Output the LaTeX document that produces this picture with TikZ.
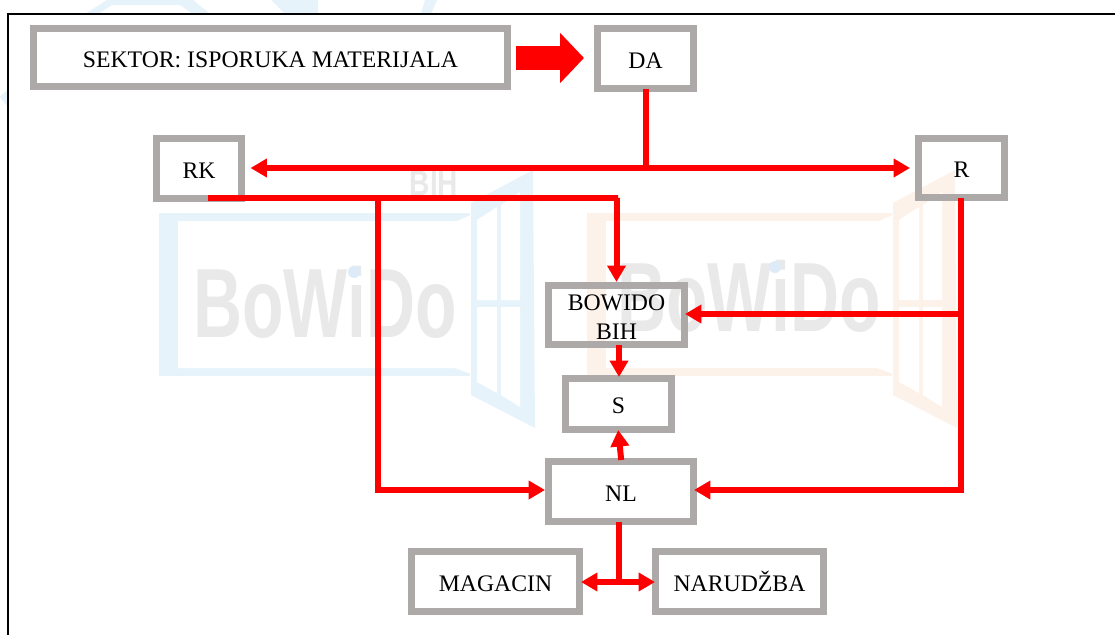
\documentclass[tikz,border=0pt]{standalone}
\usepackage{fontspec}
\setmainfont{Liberation Serif}
\newfontfamily\logofont{Liberation Sans}
\usepackage{xcolor}
\usetikzlibrary{arrows.meta, positioning}
\definecolor{framegray}{HTML}{ADA9A9}
\definecolor{logoblue}{HTML}{E6F3FB}
\definecolor{logoorange}{HTML}{FDF2EA}
\definecolor{logogray}{HTML}{E9E9E9}
\definecolor{logodot}{HTML}{DCEBF7}

\begin{document}
\begin{tikzpicture}[
          x=0.02cm, y=-0.02cm,
          box/.style={draw=framegray, line width=0.14cm, inner sep=0pt, align=center,
                      font=\fontsize{13.5}{16.4}\selectfont, text=black,
                      text height=11pt, text depth=0pt,
                      minimum width=1.72cm, minimum height=1.2cm},
          arr/.style={-{Triangle[length=0.33cm, width=0.36cm]}, draw=red, line width=0.12cm},
          wire/.style={draw=red, line width=0.12cm},
          bigarr/.style={-{Triangle[length=0.48cm, width=0.98cm]}, draw=red, line width=0.48cm},
          logotext/.style={font=\logofont\bfseries\fontsize{56}{56}\selectfont, text=logogray,
                           xscale=0.69, transform shape}
        ]
          \useasboundingbox (0,0) rectangle (1115,635);
          \fill[white] (0,0) rectangle (1115,635);

          % watermark
          \fill[logoblue] (85,14) -- (107,0) -- (193,0) -- (210,14) -- (193,14) -- (180,5) -- (112,5) -- (98,14) -- cycle;
          \fill[logoblue] (271,0) -- (318,0) -- (318,14) -- (285,14) -- cycle;
          \fill[logoblue] (421,14) -- (425,0) -- (437,0) -- (431,14) -- cycle;
          \fill[logoblue] (0,97) -- (7,90) -- (7,106) -- cycle;
          \foreach \dx/\fl/\col in {0/159/logoblue, 422/587/logoorange} {
            \fill[\col] (\fl,213) rectangle (470+\dx,376);
            \fill[white] (\fl+19,221) -- (457+\dx,221) -- (471+\dx,215) -- (471+\dx,374) -- (455+\dx,368) -- (\fl+19,368) -- cycle;
            \fill[\col] (471+\dx,203) -- (533+\dx,170) -- (535+\dx,428) -- (471+\dx,395) -- cycle;
            \fill[white] (477+\dx,220) -- (497+\dx,207) -- (497+\dx,300) -- (477+\dx,300) -- cycle;
            \fill[white] (501+\dx,205) -- (520+\dx,192) -- (520+\dx,300) -- (501+\dx,300) -- cycle;
            \fill[white] (477+\dx,307) -- (497+\dx,307) -- (497+\dx,393) -- (477+\dx,382) -- cycle;
            \fill[white] (501+\dx,307) -- (520+\dx,307) -- (520+\dx,407) -- (501+\dx,395) -- cycle;
          }
          \node[logotext] (logoleft) at (325,302) {BoWiDo};
          \node[logotext] (logoright) at (749,296) {BoWiDo};
          \fill[logodot] (354,272) circle (6);
          \fill[logodot] (775,267) circle (6);
          \node[font=\logofont\bfseries\fontsize{20}{20}\selectfont, text=logogray, xscale=0.8, transform shape] (logobih) at (434,183) {BIH};

          % page border
          \coordinate (corner) at (8,14);
          \draw[black, line width=0.04cm] (1115,14) -- (corner) -- (8,635);

          \node[box, minimum width=9.48cm, minimum height=1.16cm] (sektor) at (270.5,57.5) {SEKTOR: ISPORUKA MATERIJALA};
          \node[box, minimum width=1.92cm] (da) at (645.5,58.5) {DA};
          \node[box] (rk) at (199,168.5) {RK};
          \node[box] (r)  at (961.5,168) {R};
          \node[box, text height=, text depth=, minimum width=2.72cm, minimum height=1.18cm] (bih) at (616.5,315) {\rule{0pt}{11pt}BOWIDO\\BIH};
          \node[box, minimum width=2.12cm, minimum height=1.02cm] (s) at (618.5,404) {S};
          \node[box, minimum width=2.9cm] (nl) at (621,491.5) {NL};
          \node[box, minimum width=3.36cm] (magacin) at (495.5,581.5) {MAGACIN};
          \node[box, minimum width=3.36cm] (narudzba) at (739.5,581.5) {NARUD\v{Z}BA};

          \coordinate (datee) at (645.5,168);
          \coordinate (rkout) at (208,198);
          \coordinate (rktee) at (378,198);
          \coordinate (rkturn) at (618,198);
          \coordinate (nlturn) at (378,490);
          \coordinate (rout) at (961,198);
          \coordinate (rtee) at (961,314);
          \coordinate (rturn) at (961,490);
          \coordinate (nltee) at (619,582);
          \coordinate (bihout) at (619,345);

          \draw[bigarr, shorten <=0.1cm, shorten >=0.2cm] (sektor.east |- 0,58) -- (da.west |- 0,58);
          \draw[wire, shorten <=-0.06cm] (da.south) -- (datee);
          \draw[arr, shorten >=0.1cm] (datee) -- (rk.east |- datee);
          \draw[arr, shorten >=0.1cm] (datee) -- (r.west |- datee);
          \draw[arr] (rkout) -- (rkturn) -- (rkturn -| bih.north) -- (bih.north);
          \draw[arr] (rktee) -- (nlturn) -- (nl.west |- nlturn);
          \draw[arr, shorten >=-0.06cm] (rout) -- (rturn) -- (nl.east |- rturn);
          \draw[arr, shorten >=-0.06cm] (rtee) -- (bih.east |- rtee);
          \draw[arr, shorten >=-0.04cm] (bihout) -- (s.north -| bihout);
          \draw[arr, shorten <=-0.04cm, shorten >=-0.06cm] (nl.north) -- (s.south);
          \draw[wire, shorten <=-0.06cm] (nl.south -| nltee) -- (nltee);
          \draw[arr, shorten >=-0.04cm] (nltee) -- (magacin.east |- nltee);
          \draw[arr, shorten >=-0.06cm] (nltee) -- (narudzba.west |- nltee);
        \end{tikzpicture}
\end{document}
